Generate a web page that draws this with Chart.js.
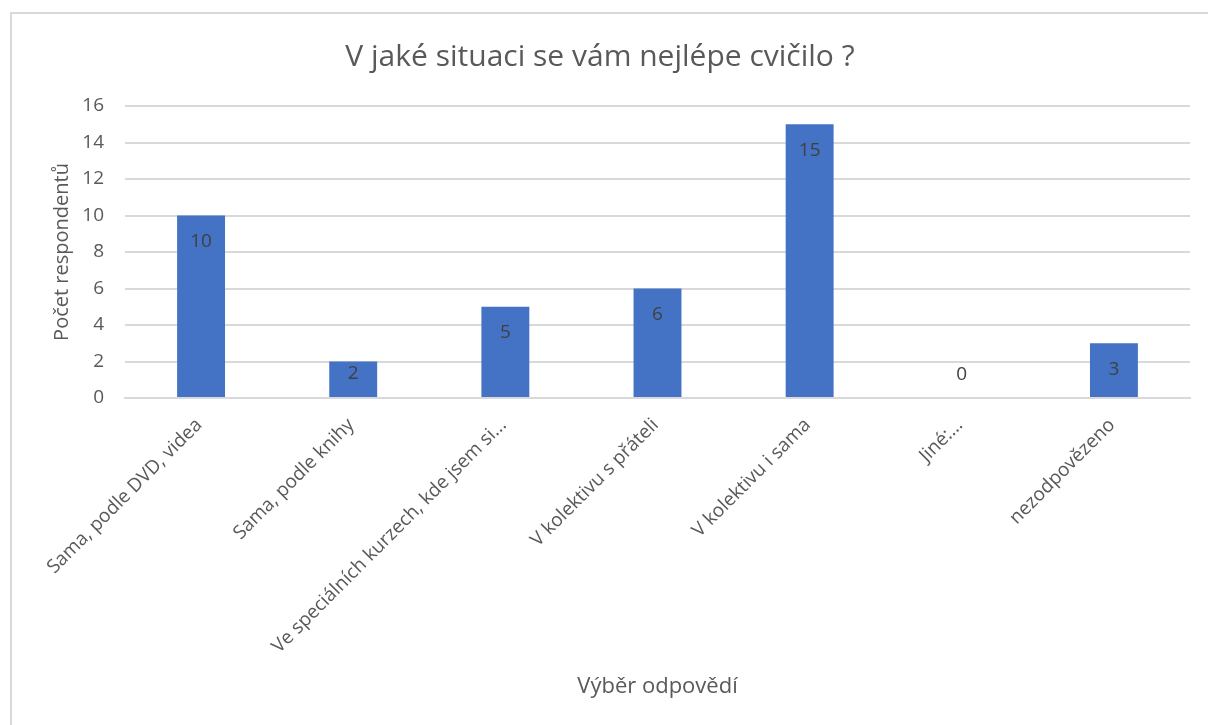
<!DOCTYPE html>
<html>
<head>
<meta charset="utf-8">
<script src="https://cdn.jsdelivr.net/npm/chart.js@4.4.1/dist/chart.umd.min.js"></script>
<style>
  html, body { margin: 0; padding: 0; background: #ffffff; }
  #wrap { position: relative; width: 1208px; height: 725px; overflow: hidden; }
  #frame { position: absolute; left: 10px; top: 12px; width: 1220px; height: 740px; border: 2px solid #d9d9d9; box-sizing: border-box; }
  canvas { position: absolute; left: 0; top: 0; }
</style>
</head>
<body>
<div id="wrap">
  <div id="frame"></div>
  <canvas id="c" width="1208" height="725"></canvas>
</div>
<script>
const categories = [
  "Sama, podle DVD, videa",
  "Sama, podle knihy",
  "Ve speciálních kurzech, kde jsem si...",
  "V kolektivu s přáteli",
  "V kolektivu i sama",
  "Jiné:...",
  "nezodpovězeno"
];
const respondents = [10, 2, 5, 6, 15, 0, 3];
const yTicks = [0, 2, 4, 6, 8, 10, 12, 14, 16];

const FONT = "'Open Sans', sans-serif";
const TEXT = "#595959";

const labelPlugin = {
  id: 'insideEndLabels',
  afterDatasetsDraw(chart) {
    const ctx = chart.ctx;
    const meta = chart.getDatasetMeta(0);
    const ds = chart.data.datasets[0];
    ctx.save();
    ctx.font = "19px " + FONT;
    ctx.fillStyle = "#404040";
    ctx.textAlign = "center";
    ctx.textBaseline = "middle";
    meta.data.forEach((bar, i) => {
      const p = bar.getProps(['x', 'y', 'base'], true);
      const y = Math.min(p.y + 26, p.base - 23);
      ctx.fillText(String(ds.data[i]), p.x, y);
    });
    ctx.restore();
  }
};

new Chart(document.getElementById('c'), {
  type: 'bar',
  data: {
    labels: categories,
    datasets: [{
      data: respondents,
      backgroundColor: '#4472C4',
      borderWidth: 0,
      categoryPercentage: 1.0,
      barPercentage: 0.315
    }]
  },
  options: {
    responsive: false,
    animation: false,
    devicePixelRatio: 1,
    layout: { padding: { left: 10, right: 18, top: 12, bottom: 0 } },
    plugins: {
      legend: { display: false },
      tooltip: { enabled: false },
      title: {
        display: true,
        text: 'V jaké situaci se vám nejlépe cvičilo ?',
        color: TEXT,
        font: { family: FONT, size: 30, weight: 'normal' },
        padding: { top: 27, bottom: 31 }
      }
    },
    scales: {
      x: {
        grid: { display: false, drawTicks: false },
        border: { display: true, color: '#d9d9d9', width: 2 },
        ticks: {
          color: TEXT,
          font: { family: FONT, size: 19 },
          maxRotation: 45,
          minRotation: 45,
          padding: 16,
          labelOffset: -2,
          autoSkip: false
        },
        title: {
          display: true,
          text: 'Výběr odpovědí',
          color: TEXT,
          font: { family: FONT, size: 22 },
          padding: { top: 0, bottom: 25 }
        },
        afterFit(scale) { scale.height = 327; }
      },
      y: {
        min: 0,
        max: 16,
        afterBuildTicks(scale) { scale.ticks = yTicks.map(v => ({ value: v })); },
        grid: { color: '#d9d9d9', lineWidth: 2, drawTicks: false },
        border: { display: false },
        ticks: {
          color: TEXT,
          font: { family: FONT, size: 19 },
          padding: 21
        },
        title: {
          display: true,
          text: 'Počet respondentů',
          color: TEXT,
          font: { family: FONT, size: 20 },
          padding: { top: 40, bottom: 0 }
        },
        afterFit(scale) { scale.width = 115; }
      }
    }
  },
  plugins: [labelPlugin]
});
</script>
</body>
</html>
